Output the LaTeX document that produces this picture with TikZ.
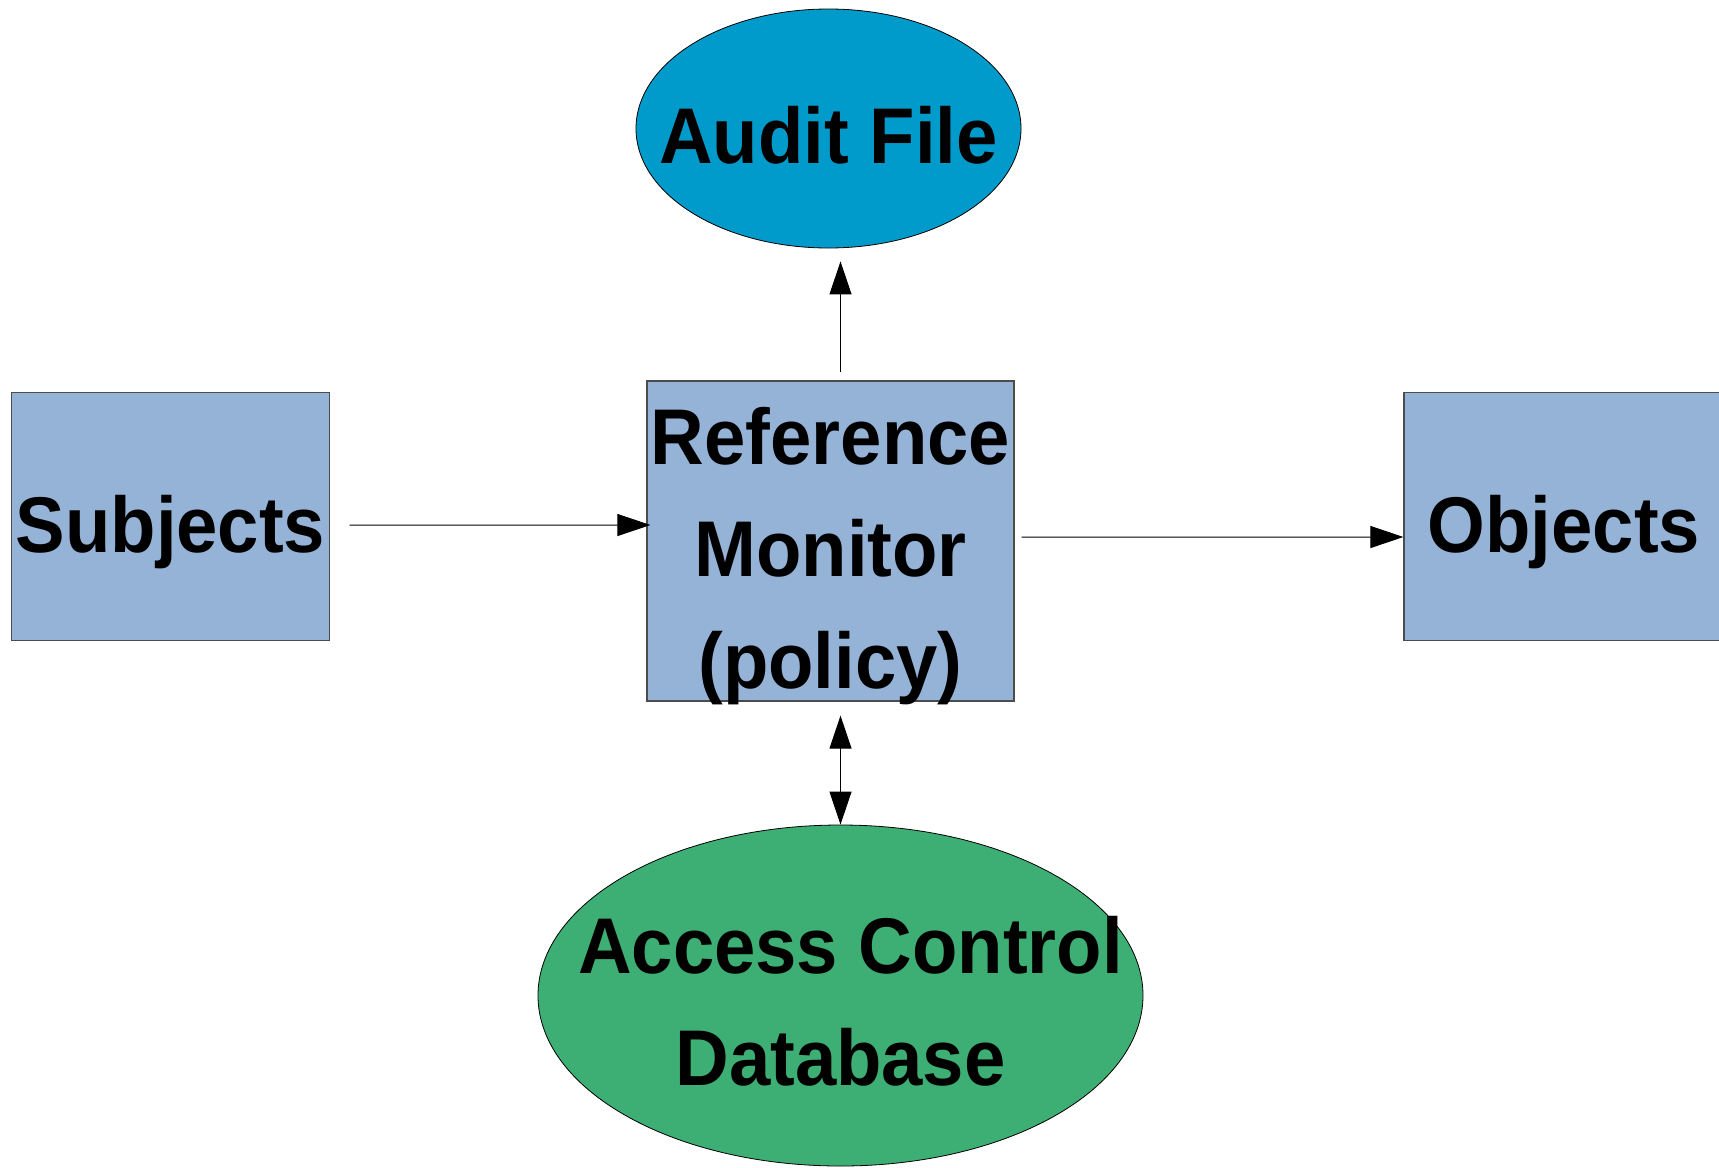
\documentclass[tikz,border=0pt]{standalone}
\usepackage{fontspec}
\setmainfont[FakeStretch=0.94]{Liberation Sans}
\usetikzlibrary{arrows.meta,calc,shapes.geometric}

\definecolor{boxblue}{HTML}{95B3D7}
\definecolor{auditblue}{HTML}{009BCB}
\definecolor{dbgreen}{HTML}{3DAE74}

\tikzset{
  block/.style={rectangle, draw=black!70, line width=1.2bp, fill=boxblue,
    inner sep=0pt, minimum width=#1, minimum height=248bp},
  store/.style={ellipse, draw=black, line width=0.8bp, inner sep=0pt},
  txt/.style={font=\fontsize{79bp}{112bp}\selectfont\bfseries, align=center,
    inner sep=0pt, text=black},
  flow/.style={line width=1bp, -{Triangle[length=33bp,width=22bp]}},
  bothflow/.style={line width=1bp, {Triangle[length=33bp,width=22bp]}-{Triangle[length=33bp,width=22bp]}}
}

\begin{document}
\begin{tikzpicture}[x=1bp, y=-1bp]
  \fill[white] (0,0) rectangle (1719,1167);
  \clip (0,0) rectangle (1719,1167);

  % boxes
  \node[block=318bp,
    label={[txt, text height=72bp, text depth=0bp]center:Subjects}]
    (subj) at (170.5,516.5) {};
  \node[block=367bp, minimum height=320bp,
    label={[txt, text height=294bp, text depth=0bp]center:{Reference\\Monitor\\(policy)}}]
    (rm) at (830.5,541) {};
  \node[block=320bp,
    label={[txt, text height=72bp, text depth=0bp]center:Objects}]
    (obj) at (1564,516.5) {};

  % stores
  \node[store, fill=auditblue, minimum width=385bp, minimum height=239bp,
    label={[txt, text height=69bp, text depth=0bp]center:Audit File}]
    (audit) at (828.5,128.5) {};
  \node[store, fill=dbgreen, minimum width=605bp, minimum height=341bp,
    label={[txt, text height=179bp, text depth=0bp]center:{\hspace*{20bp}Access Control\\Database}}]
    (acd) at (840.5,995.5) {};

  % connectors
  \draw[flow] ($(subj.east)+(19.5,8.5)$) -- ($(rm.west)+(4,-16)$);
  \draw[flow] ($(rm.east)+(7,-4)$) -- ($(obj.west)+(0,20.5)$);
  \draw[flow] ($(rm.north)+(10,-8)$) -- ($(audit.south)+(12,13)$);
  \draw[bothflow] ($(rm.south)+(10,14)$) -- (acd.north);
\end{tikzpicture}
\end{document}
